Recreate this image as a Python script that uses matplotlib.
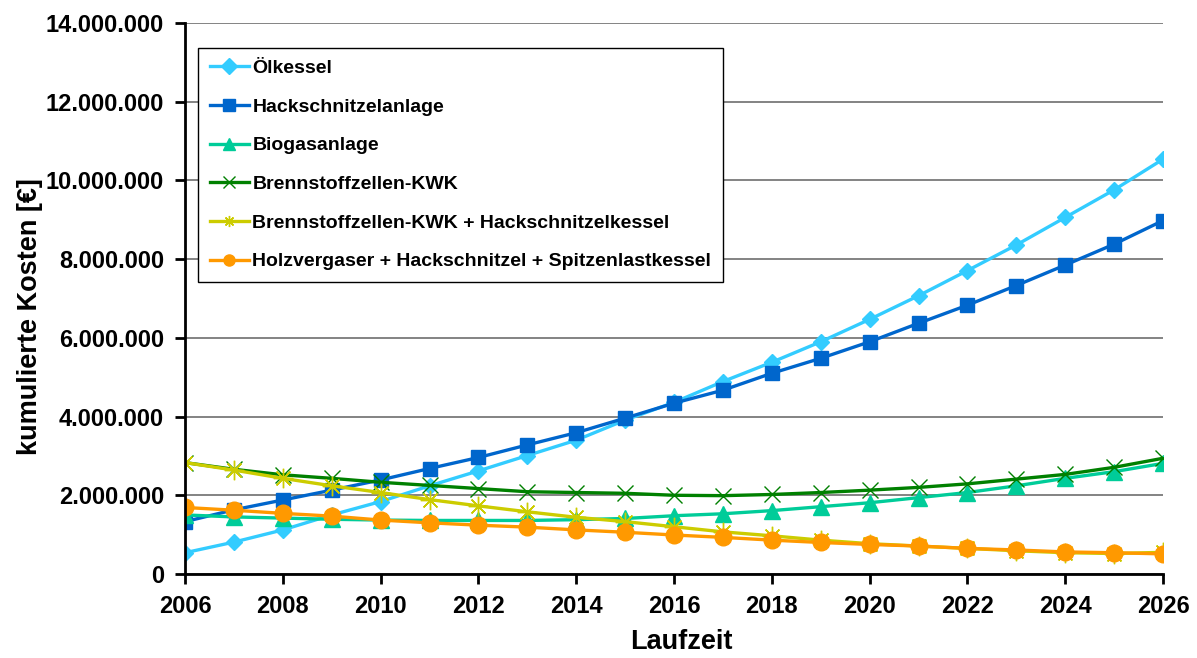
import matplotlib
matplotlib.use("Agg")
import matplotlib.pyplot as plt
from matplotlib.ticker import FuncFormatter, MultipleLocator

plt.rcParams['font.family'] = ['Liberation Sans', 'DejaVu Sans']
plt.rcParams['font.weight'] = 'bold'

# Jahre und kumulierte Kosten (Mio. EUR)
years = list(range(2006, 2027))
oelkessel = [0.54, 0.81, 1.12, 1.50, 1.84, 2.24, 2.62, 3.01, 3.40, 3.91, 4.36,
             4.89, 5.38, 5.90, 6.47, 7.07, 7.71, 8.36, 9.06, 9.76, 10.54]
hackschnitzel = [1.33, 1.63, 1.88, 2.13, 2.39, 2.68, 2.96, 3.28, 3.59, 3.96, 4.34,
                 4.67, 5.10, 5.48, 5.90, 6.37, 6.83, 7.33, 7.85, 8.38, 8.98]
biogas = [1.50, 1.45, 1.42, 1.39, 1.37, 1.36, 1.36, 1.36, 1.38, 1.41, 1.48,
          1.53, 1.61, 1.71, 1.81, 1.94, 2.07, 2.24, 2.43, 2.60, 2.81]
bz_kwk = [2.83, 2.66, 2.52, 2.43, 2.33, 2.25, 2.17, 2.09, 2.07, 2.05, 2.00,
          1.99, 2.02, 2.07, 2.13, 2.20, 2.29, 2.41, 2.53, 2.71, 2.94]
bz_kwk_hs = [2.83, 2.64, 2.43, 2.24, 2.07, 1.89, 1.73, 1.58, 1.44, 1.33, 1.20,
             1.07, 0.97, 0.86, 0.77, 0.71, 0.65, 0.59, 0.54, 0.52, 0.55]
holzvergaser = [1.69, 1.62, 1.54, 1.47, 1.37, 1.30, 1.24, 1.19, 1.12, 1.06, 0.99,
                0.93, 0.86, 0.80, 0.75, 0.71, 0.65, 0.61, 0.56, 0.54, 0.51]

labels = ["Ölkessel", "Hackschnitzelanlage", "Biogasanlage", "Brennstoffzellen-KWK",
          "Brennstoffzellen-KWK + Hackschnitzelkessel",
          "Holzvergaser + Hackschnitzel + Spitzenlastkessel"]

fig = plt.figure(figsize=(11.97, 6.58), dpi=100)
ax = fig.add_axes([0.1546, 0.1277, 0.817, 0.8373])

def mio(v):
    return [x * 1e6 for x in v]

lw = 2.4
ax.plot(years, mio(oelkessel), color='#33CCFF', lw=lw, marker='D', ms=8.5, label=labels[0])
ax.plot(years, mio(hackschnitzel), color='#0066CC', lw=lw, marker='s', ms=10.5, label=labels[1])
ax.plot(years, mio(biogas), color='#00CC99', lw=lw, marker='^', ms=12, label=labels[2])
ax.plot(years, mio(bz_kwk), color='#008000', lw=lw, marker='x', ms=12, mew=1.0, label=labels[3])
ax.plot(years, mio(bz_kwk_hs), color='#CCCC00', lw=lw, marker=(8, 2, 0), ms=14, mew=1.0, label=labels[4])
ax.plot(years, mio(holzvergaser), color='#FF9900', lw=lw, marker='o', ms=12, label=labels[5])

ax.set_xlim(2006, 2026)
ax.set_ylim(0, 14e6)
ax.xaxis.set_major_locator(MultipleLocator(2))
ax.yaxis.set_major_locator(MultipleLocator(2e6))
ax.yaxis.set_major_formatter(FuncFormatter(lambda v, p: f"{int(v):,}".replace(",", ".")))
ax.grid(axis='y', color='#7a7a7a', lw=1.3)
ax.set_axisbelow(True)

for s in ['top', 'right']:
    ax.spines[s].set_visible(False)
for s in ['left', 'bottom']:
    ax.spines[s].set_linewidth(2)
ax.tick_params(axis='both', direction='out', length=7, width=2, labelsize=17, pad=8)

ax.set_xlabel("Laufzeit", fontsize=19.5, fontweight='bold')
ax.set_ylabel("kumulierte Kosten [€]", fontsize=19.5, fontweight='bold')
ax.xaxis.set_label_coords(0.507, -0.1)
ax.yaxis.set_label_coords(-0.145, 0.468)

leg = ax.legend(loc='upper left', bbox_to_anchor=(198 / 1197, 1 - 48 / 658),
                bbox_transform=fig.transFigure, borderaxespad=0, fancybox=False,
                edgecolor='black', framealpha=1, fontsize=14, labelspacing=1.08,
                handlelength=2.0, handletextpad=0.2, borderpad=0.6)
leg.get_frame().set_linewidth(1)
for h in leg.legend_handles:
    h.set_markersize(8)

fig.savefig("out.png", dpi=100)
